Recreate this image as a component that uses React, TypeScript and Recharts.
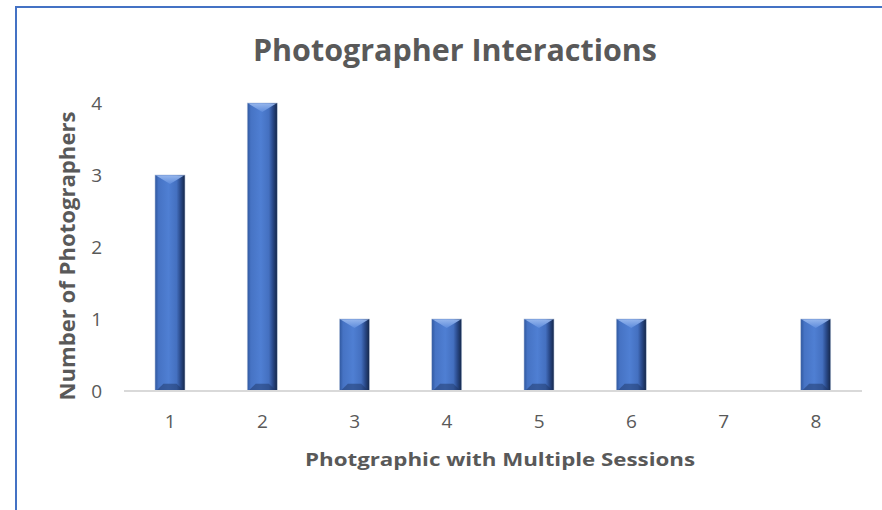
import React from "react";
import { BarChart, Bar, XAxis, YAxis, Customized } from "recharts";

const categories = ["1", "2", "3", "4", "5", "6", "7", "8"];
const photographerCounts = [3, 4, 1, 1, 1, 1, 0, 1];
const yTicks = [0, 1, 2, 3, 4];
const chartTitle = "Photographer Interactions";
const xTitle = "Photgraphic with Multiple Sessions";
const yTitle = "Number of Photographers";

const data = categories.map((c, i) => ({ name: c, value: photographerCounts[i] }));

const FONT = "'Open Sans', 'Noto Sans', sans-serif";
const GRAY = "#595959";

const BevelBar = (props: any) => {
  const { x, y, width, height, index } = props;
  if (!height || height <= 0) return null;
  const id = `bevel-${index}`;
  const b = Math.min(9, height / 3);
  return (
    <g>
      <defs>
        <linearGradient id={id} x1="0" y1="0" x2="1" y2="0">
          <stop offset="0%" stopColor="#2f579e" />
          <stop offset="12%" stopColor="#4673c4" />
          <stop offset="45%" stopColor="#4f7fd3" />
          <stop offset="72%" stopColor="#4470c0" />
          <stop offset="85%" stopColor="#2a4a8a" />
          <stop offset="100%" stopColor="#142648" />
        </linearGradient>
        <linearGradient id={`${id}-t`} x1="0" y1="0" x2="0" y2="1">
          <stop offset="0%" stopColor="#9dbcf0" />
          <stop offset="100%" stopColor="#5f8ddd" />
        </linearGradient>
      </defs>
      <rect x={x} y={y} width={width} height={height} fill={`url(#${id})`} stroke="#b9c6dd" strokeWidth={0.6} />
      <polygon
        points={`${x + 1},${y + 0.5} ${x + width - 1},${y + 0.5} ${x + width / 2},${y + b}`}
        fill={`url(#${id}-t)`}
        opacity={0.9}
      />
      <polygon
        points={`${x + 1},${y + height} ${x + width - 1},${y + height} ${x + width * 0.72},${y + height - b * 0.8} ${x + width * 0.28},${y + height - b * 0.8}`}
        fill="#1d3565"
        opacity={0.5}
      />
    </g>
  );
};

const Titles = () => (
  <g>
    <text
      x={455}
      y={61}
      textAnchor="middle"
      fontFamily={FONT}
      fontWeight={700}
      fontSize={30}
      fill={GRAY}
      textLength={404}
      lengthAdjust="spacingAndGlyphs"
    >
      {chartTitle}
    </text>
    <text
      x={500}
      y={466}
      textAnchor="middle"
      fontFamily={FONT}
      fontWeight={700}
      fontSize={18}
      fill={GRAY}
      textLength={390}
      lengthAdjust="spacingAndGlyphs"
    >
      {xTitle}
    </text>
    <text
      x={75}
      y={256}
      textAnchor="middle"
      transform="rotate(-90 75 256)"
      fontFamily={FONT}
      fontWeight={700}
      fontSize={21}
      fill={GRAY}
      textLength={289}
      lengthAdjust="spacingAndGlyphs"
    >
      {yTitle}
    </text>
  </g>
);

export default function App() {
  return (
    <div
      style={{
        position: "absolute",
        left: 0,
        top: 0,
        width: 882,
        height: 510,
        overflow: "hidden",
        background: "#ffffff",
      }}
    >
      <div
        style={{
          position: "absolute",
          left: 15,
          top: 6,
          width: 900,
          height: 600,
          borderLeft: "2px solid #4472C4",
          borderTop: "2px solid #4472C4",
          boxSizing: "border-box",
        }}
      />
      <div style={{ position: "absolute", left: 0, top: 0 }}>
        <BarChart
          width={882}
          height={510}
          data={data}
          margin={{ top: 103, right: 20, left: 0, bottom: 0 }}
          barCategoryGap={0}
        >
          <XAxis
            dataKey="name"
            height={119}
            tickLine={false}
            tickSize={0}
            tickMargin={24}
            axisLine={{ stroke: "#d9d9d9", strokeWidth: 2 }}
            tick={{ fill: GRAY, fontSize: 19, fontFamily: FONT }}
            interval={0}
          />
          <YAxis
            width={124}
            domain={[0, 4]}
            ticks={yTicks}
            tickLine={false}
            axisLine={false}
            tickSize={0}
            tickMargin={22}
            tick={{ fill: GRAY, fontSize: 19, fontFamily: FONT }}
          />
          <Bar dataKey="value" barSize={30} shape={BevelBar} isAnimationActive={false} />
          <Customized component={Titles} />
        </BarChart>
      </div>
    </div>
  );
}
